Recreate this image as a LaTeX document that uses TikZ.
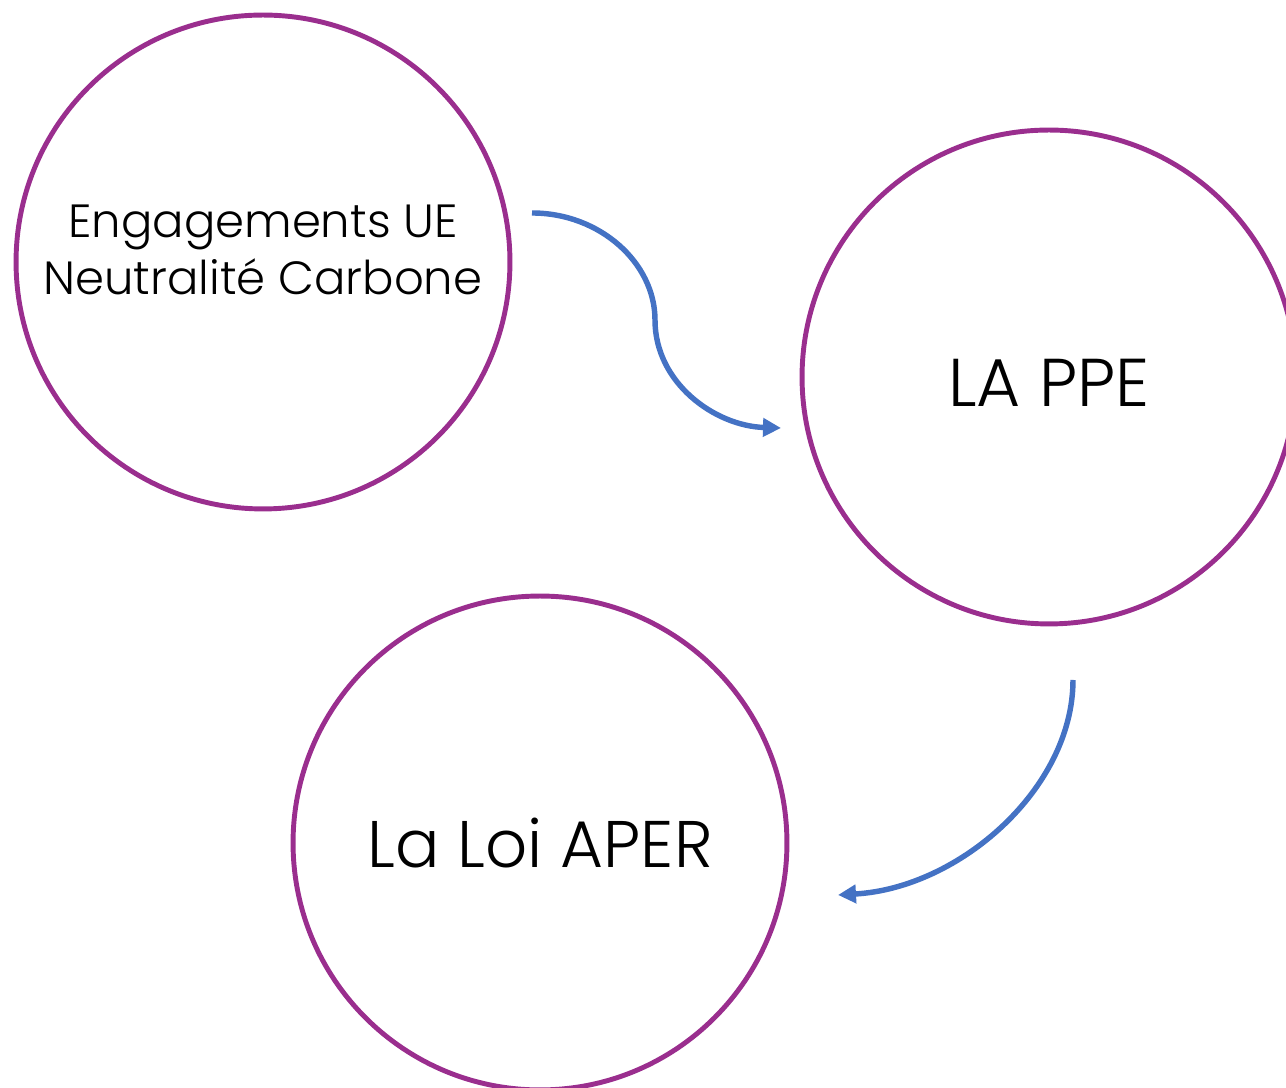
\documentclass[tikz,border=0pt]{standalone}
\usepackage{fontspec}
\setmainfont{Poppins}[UprightFont=* Light]
\usepackage{xcolor}
\usetikzlibrary{arrows.meta}

\definecolor{ringpurple}{RGB}{154,46,142}
\definecolor{flowblue}{RGB}{68,114,196}

\begin{document}
\begin{tikzpicture}[x=0.02cm, y=0.02cm,
  ring/.style={circle, draw=ringpurple, line width=2.8pt, minimum size=9.88cm, inner sep=0pt},
  ringtext/.style={align=center, inner sep=0pt},
  flow/.style={draw=flowblue, line width=3.1pt, -{Triangle[length=0.36cm, width=0.36cm]}}]
  % keep the page the size of the reference
  \useasboundingbox (0,0) rectangle (1286,1088);

  % the three circles
  \node[ring] (engage) at (263,826) {};
  \node[ring] (ppe) at (1049,711) {};
  \node[ring] (aper) at (540,245) {};

  % their texts
  \node[ringtext, font=\fontsize{26.5}{32}\selectfont] (engagelabel) at (263,838) {Engagements UE\\Neutralité Carbone};
  \node[ringtext, font=\fontsize{38.5}{44}\selectfont] (ppelabel) at (1049,705) {LA PPE};
  \node[ringtext, font=\fontsize{37.5}{44}\selectfont] (aperlabel) at (540,245) {La Loi APER};

  % free ends of the arrows
  \coordinate (engageout) at (532,875);
  \coordinate (ppein) at (781,660);
  \coordinate (ppeout) at (1073,408);
  \coordinate (aperin) at (838,193);

  % arrows
  \draw[flow] (engageout) .. controls (600,875) and (655,825) .. (655,768)
    .. controls (655,705) and (715,662) .. (ppein);
  \draw[flow] (ppeout) .. controls (1073,300) and (960,200) .. (aperin);
\end{tikzpicture}
\end{document}
